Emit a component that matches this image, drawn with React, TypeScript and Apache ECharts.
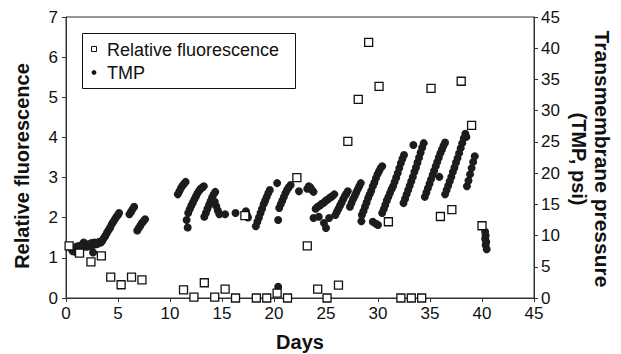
import React, { useEffect, useRef } from "react";
import * as echarts from "echarts";

const xTicks = [0, 5, 10, 15, 20, 25, 30, 35, 40, 45];
const leftTicks = [0, 1, 2, 3, 4, 5, 6, 7];
const rightTicks = [0, 5, 10, 15, 20, 25, 30, 35, 40, 45];

const fluorDays = [0.3, 1.3, 2.4, 3.4, 4.3, 5.3, 6.3, 7.3, 11.3, 12.3, 13.3, 14.3, 15.3, 16.3, 17.2, 18.3, 19.3, 20.3, 21.3, 22.2, 23.2, 24.2, 25.1, 26.2, 27.1, 28.1, 29.1, 30.1, 31.0, 32.2, 33.2, 34.2, 35.1, 36.0, 37.1, 38.0, 39.0, 40.0];
const fluorValues = [1.3, 1.12, 0.9, 1.05, 0.52, 0.33, 0.52, 0.45, 0.2, 0.02, 0.38, 0.02, 0.22, 0.0, 2.05, 0.0, 0.0, 0.12, 0.0, 3.0, 1.3, 0.22, 0.0, 0.32, 3.9, 4.95, 6.37, 5.27, 1.9, 0.0, 0.0, 0.0, 5.22, 2.03, 2.2, 5.4, 4.3, 1.8];

const tmpPoints: [number, number][] = [
  [0.5, 7.9], [0.65, 7.5], [0.8, 8.1], [0.95, 7.7], [1.1, 8.3], [1.25, 7.9], [1.4, 8.4], [1.55, 8.1], [1.7, 8.9], [1.85, 8.4],
  [2.0, 8.2], [2.15, 8.6], [2.3, 8.3], [2.45, 8.8], [2.6, 8.5], [2.75, 8.9], [2.9, 8.6], [3.05, 8.7], [3.2, 9.0], [3.35, 8.9],
  [2.6, 7.3], [1.0, 7.3],
  [3.5, 9.2], [3.65, 9.6], [3.8, 10.0], [3.95, 10.5], [4.1, 10.9], [4.25, 11.3], [4.4, 11.8], [4.55, 12.2], [4.7, 12.6], [4.85, 13.0], [5.0, 13.3], [5.1, 13.6],
  [6.1, 13.4], [6.25, 13.8], [6.4, 14.2], [6.55, 14.6],
  [6.85, 10.8], [7.0, 11.2], [7.15, 11.6], [7.3, 12.0], [7.45, 12.3], [7.6, 12.6],
  [10.75, 16.6], [10.9, 17.1], [11.05, 17.6], [11.2, 18.0], [11.35, 18.3], [11.5, 18.6],
  [11.6, 12.5], [11.7, 11.3],
  [11.75, 13.6], [11.9, 14.2], [12.05, 14.8], [12.2, 15.3], [12.35, 15.8], [12.5, 16.3], [12.65, 16.8], [12.8, 17.2], [12.95, 17.5], [13.1, 17.7], [13.25, 17.9],
  [13.3, 13.0], [13.45, 13.6], [13.6, 14.3], [13.75, 14.9], [13.9, 15.5], [14.05, 16.1], [14.2, 16.6], [14.35, 17.0], [14.3, 15.4], [14.45, 14.7], [14.6, 14.0], [14.75, 13.4],
  [15.3, 13.4], [16.3, 13.6],
  [17.3, 13.9], [17.4, 13.3], [17.5, 12.9],
  [18.25, 11.5], [18.4, 12.2], [18.55, 12.9], [18.7, 13.6], [18.85, 14.3], [19.0, 15.0], [19.15, 15.6], [19.3, 16.2], [19.45, 16.8], [19.6, 17.3],
  [20.3, 18.4], [20.4, 12.5], [20.4, 1.8],
  [20.5, 14.4], [20.65, 15.0], [20.8, 15.6], [20.95, 16.2], [21.1, 16.8], [21.25, 17.3], [21.4, 17.7], [21.6, 18.1],
  [22.4, 17.1],
  [23.2, 17.5], [23.35, 17.9], [23.5, 17.7], [23.65, 17.3], [23.8, 17.0],
  [24.0, 14.3], [24.2, 14.6], [24.4, 14.8], [24.6, 15.1], [24.8, 15.3], [25.0, 15.6], [25.2, 15.8], [25.4, 16.1], [25.6, 16.3], [25.8, 16.6],
  [23.8, 12.8], [24.3, 13.0], [24.8, 12.0], [25.3, 12.8], [25.0, 11.2],
  [25.9, 13.3], [26.05, 13.8], [26.2, 14.3], [26.35, 14.8], [26.5, 15.3], [26.65, 15.8], [26.8, 16.3], [26.95, 16.7], [27.1, 17.1],
  [27.3, 14.6], [27.45, 15.2], [27.6, 15.8], [27.75, 16.3], [27.9, 16.9], [28.05, 17.4], [28.2, 17.9], [28.35, 18.4],
  [28.4, 12.3],
  [28.45, 13.3], [28.6, 13.9], [28.75, 14.6], [28.9, 15.3], [29.05, 16.0], [29.2, 16.6], [29.35, 17.2], [29.5, 17.9], [29.65, 18.5], [29.8, 19.2], [29.95, 19.8], [30.1, 20.3], [30.25, 20.8], [30.4, 21.1],
  [29.5, 12.2], [29.8, 11.9], [30.0, 11.7],
  [30.4, 13.6], [30.55, 14.2], [30.7, 14.9], [30.85, 15.6], [31.0, 16.2], [31.15, 16.8], [31.3, 17.4], [31.45, 17.9], [31.6, 18.6], [31.75, 19.3], [31.9, 20.0], [32.05, 20.8], [32.2, 21.6], [32.35, 22.3], [32.5, 22.9],
  [32.45, 15.2], [32.6, 15.9], [32.75, 16.6], [32.9, 17.3], [33.05, 18.0], [33.2, 18.7], [33.35, 19.4], [33.5, 20.2], [33.65, 20.9], [33.8, 21.7], [33.95, 22.5], [34.1, 23.3], [34.25, 24.1], [34.4, 24.8],
  [33.4, 24.5],
  [34.5, 16.2], [34.65, 16.9], [34.8, 17.6], [34.95, 18.3], [35.1, 19.0], [35.25, 19.7], [35.4, 20.4], [35.55, 21.1], [35.7, 21.8], [35.85, 22.5], [36.0, 23.2], [36.15, 23.8], [36.3, 24.4], [36.45, 24.9],
  [35.9, 19.4],
  [36.45, 16.6], [36.6, 17.3], [36.75, 18.0], [36.9, 18.7], [37.05, 19.4], [37.2, 20.2], [37.35, 20.9], [37.5, 21.7], [37.65, 22.4], [37.8, 23.2], [37.95, 24.0], [38.1, 24.8], [38.25, 25.6], [38.4, 26.3], [38.5, 25.8],
  [38.55, 17.9], [38.7, 18.8], [38.85, 19.8], [39.0, 20.8], [39.15, 21.8], [39.3, 22.7],
  [40.3, 10.6], [40.35, 10.0], [40.3, 9.5], [40.4, 9.0], [40.35, 8.5], [40.45, 7.8],
];

const legendLabels = ["Relative fluorescence", "TMP"];
const xTitle = "Days";
const leftTitle = "Relative fluorescence";
const rightTitleLines = ["Transmembrane pressure", "(TMP, psi)"];

const FONT = "'Liberation Sans', Arial, sans-serif";
const AXIS = "#333";

export default function App() {
  const ref = useRef<HTMLDivElement>(null);
  useEffect(() => {
    if (!ref.current) return;
    const chart = echarts.init(ref.current, undefined, { renderer: "svg" });
    const labelStyle = { color: "#111", fontSize: 17, fontFamily: FONT };
    chart.setOption({
      animation: false,
      backgroundColor: "#fff",
      grid: { left: 66, right: 87, top: 17, bottom: 56, show: true, borderColor: AXIS, borderWidth: 1, backgroundColor: "transparent" },
      xAxis: {
        type: "value", min: xTicks[0], max: xTicks[xTicks.length - 1], interval: 5,
        axisLine: { show: true, lineStyle: { color: AXIS, width: 1 } },
        axisTick: { show: true, length: 4, lineStyle: { color: AXIS } },
        axisLabel: { ...labelStyle, margin: 7 },
        splitLine: { show: false },
      },
      yAxis: [
        {
          type: "value", min: leftTicks[0], max: leftTicks[leftTicks.length - 1], interval: 1, position: "left",
          axisLine: { show: true, lineStyle: { color: AXIS, width: 1 } },
          axisTick: { show: true, length: 4, lineStyle: { color: AXIS } },
          axisLabel: { ...labelStyle, margin: 8 },
          splitLine: { show: false },
        },
        {
          type: "value", min: rightTicks[0], max: rightTicks[rightTicks.length - 1], interval: 5, position: "right",
          axisLine: { show: true, lineStyle: { color: AXIS, width: 1 } },
          axisTick: { show: true, length: 4, lineStyle: { color: AXIS } },
          axisLabel: { ...labelStyle, margin: 7 },
          splitLine: { show: false },
        },
      ],
      series: [
        {
          name: legendLabels[1], type: "scatter", yAxisIndex: 1, symbol: "circle", symbolSize: 8,
          itemStyle: { color: "#1c1c1c", borderWidth: 0, opacity: 1 },
          data: tmpPoints,
        },
        {
          name: legendLabels[0], type: "scatter", yAxisIndex: 0, symbol: "rect", symbolSize: 8,
          itemStyle: { color: "#fff", borderColor: "#111", borderWidth: 1.3, opacity: 1 },
          data: fluorDays.map((d, i) => [d, fluorValues[i]]),
        },
      ],
      graphic: [
        { type: "rect", shape: { x: 82.5, y: 33.5, width: 213, height: 55 }, style: { fill: "#fff", stroke: "#111", lineWidth: 1 }, z: 100 },
        { type: "rect", shape: { x: 91.5, y: 46.5, width: 5, height: 5 }, style: { fill: "#fff", stroke: "#111", lineWidth: 1 }, z: 101 },
        { type: "circle", shape: { cx: 94, cy: 72.5, r: 2.4 }, style: { fill: "#111" }, z: 101 },
        { type: "text", x: 107, y: 49.5, style: { text: legendLabels[0], fontSize: 18, fontFamily: FONT, fill: "#111", verticalAlign: "middle", align: "left" }, z: 101 },
        { type: "text", x: 107, y: 73, style: { text: legendLabels[1], fontSize: 18, fontFamily: FONT, fill: "#111", verticalAlign: "middle", align: "left" }, z: 101 },
        { type: "text", x: 300, y: 342, style: { text: xTitle, fontSize: 20, fontWeight: "bold", fontFamily: FONT, fill: "#111", align: "center", verticalAlign: "middle" } },
        { type: "text", x: 22, y: 166, rotation: Math.PI / 2, style: { text: leftTitle, fontSize: 20, fontWeight: "bold", fontFamily: FONT, fill: "#111", align: "center", verticalAlign: "middle" } },
        { type: "text", x: 602, y: 159, rotation: -Math.PI / 2, style: { text: rightTitleLines[0], fontSize: 21, fontWeight: "bold", fontFamily: FONT, fill: "#111", align: "center", verticalAlign: "middle" } },
        { type: "text", x: 579, y: 159, rotation: -Math.PI / 2, style: { text: rightTitleLines[1], fontSize: 20, fontWeight: "bold", fontFamily: FONT, fill: "#111", align: "center", verticalAlign: "middle" } },
      ],
    });
    return () => chart.dispose();
  }, []);
  return <div ref={ref} style={{ position: "fixed", left: 0, top: 0, width: 621, height: 354 }} />;
}
